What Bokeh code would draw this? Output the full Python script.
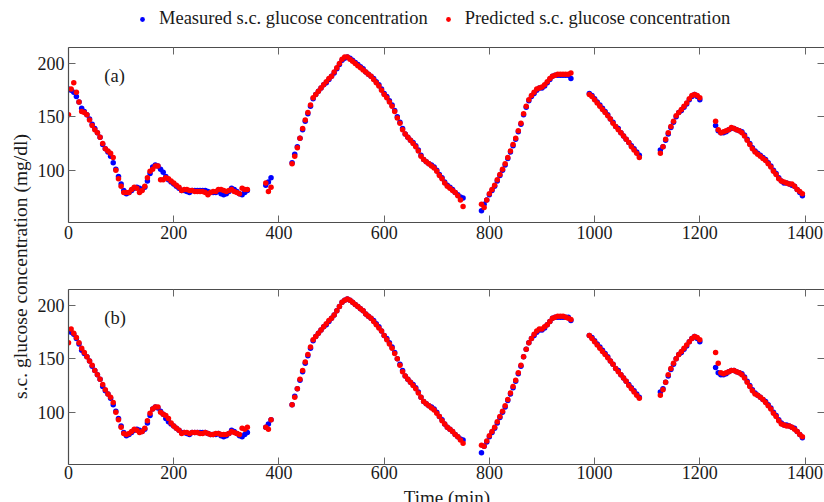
import math
from bokeh.plotting import figure
from bokeh.models import (Label, Legend, LegendItem, LinearAxis, FixedTicker,
                          Range1d, ColumnDataSource)
from bokeh.layouts import row, column
from bokeh.embed import file_html
from bokeh.resources import INLINE

FONT = "Liberation Serif"

# ---- data (5-min samples, one list per recording segment) ----
seg_start = [0, 375, 425, 785, 990, 1125, 1230]

measured = [
    [176,175,173,169,164,158,155,152,148,143,139,135,131,124,120,117,113,107,101,94,
     87,81,78,79,81,83,84,83,82,84,90,97,103,105,104,101,98,94,91,89,
     87,85,83,81,81,80,79,81,81,81,81,81,81,80,79,79,79,80,78,77,
     78,80,83,82,80,78,77,79,81],
    [86,89,93],
    [107,115,122,130,138,146,153,160,167,171,174,177,180,182,185,188,191,195,199,203,
     205,206,205,203,201,199,197,195,192,190,188,186,183,180,176,172,169,165,161,156,
     150,145,139,134,131,128,126,123,119,114,110,108,106,105,103,100,96,93,89,86,
     84,82,79,77,75,74],
    [62,68,72,77,81,85,90,95,100,105,111,117,123,129,136,143,152,159,165,169,
     172,175,177,177,179,182,185,188,189,189,189,189,189,189,186],
    [172,170,167,164,161,158,155,152,148,145,141,139,135,132,129,126,123,120,117,114],
    [119,122,128,134,140,145,150,154,156,159,162,166,169,171,169,166],
    [142,137,135,135,136,138,139,139,138,137,136,133,129,125,121,118,116,114,112,110,
     107,104,100,97,93,90,88,88,87,86,85,82,79,76],
]

pred_a = [
    [152,176,182,173,164,155,154,152,147,142,138,135,131,125,120,118,116,112,100,92,
     85,79,79,79,82,84,83,79,81,85,93,99,101,104,104,91,91,93,92,90,
     88,86,84,81,82,82,81,81,80,80,80,80,79,77,79,80,80,82,82,81,
     80,81,82,80,79,78,83,82,82],
    [88,80,84],
    [106,113,121,130,139,147,154,161,168,171,174,177,180,183,186,188,192,196,200,204,
     206,206,204,202,200,198,196,194,192,190,188,185,182,179,175,171,168,164,160,155,
     149,144,138,134,131,128,125,122,118,113,110,108,106,104,102,99,95,92,88,85,
     83,81,79,76,72,66],
    [68,65,72,78,82,86,91,96,101,106,112,118,124,130,137,144,153,160,166,170,
     173,176,177,178,180,183,186,188,189,190,190,190,190,190,191],
    [171,169,166,163,160,157,154,151,148,144,141,138,135,132,129,126,122,119,116,112],
    [116,122,129,135,141,146,151,154,157,160,163,167,170,171,170,168],
    [146,138,135,136,137,138,140,139,138,137,135,132,128,124,120,117,115,113,111,109,
     106,103,99,96,92,90,89,88,87,87,85,82,80,78],
]

pred_b = [
    [165,178,174,170,165,160,156,152,148,144,139,135,131,126,121,117,114,109,100,93,
     86,80,79,80,82,84,83,81,82,85,92,99,103,105,105,100,98,97,94,90,
     87,85,83,80,81,81,80,81,81,81,80,80,81,80,79,79,80,80,79,79,
     79,80,82,81,80,79,85,84,86],
    [86,84,93],
    [107,114,122,131,139,147,154,161,168,171,174,177,180,183,186,188,191,195,199,203,
     205,206,205,203,201,199,197,195,192,190,188,185,182,179,176,172,168,164,160,155,
     150,144,138,134,131,128,125,122,118,114,110,108,106,104,102,99,96,92,89,86,
     84,82,79,77,74,71],
    [69,68,73,78,82,86,91,96,101,106,112,118,124,130,137,144,152,159,165,169,
     173,176,178,178,180,182,185,188,189,190,190,190,189,188,187],
    [172,169,166,163,160,157,154,151,148,145,141,138,135,132,129,125,122,119,116,113],
    [116,121,128,135,141,146,150,154,157,160,163,166,169,171,170,168],
    [156,146,137,136,137,138,139,139,138,137,135,132,128,124,120,117,116,114,112,109,
     106,103,99,96,92,89,88,87,87,86,84,82,79,77],
]

x_ticks = [0, 200, 400, 600, 800, 1000, 1200, 1400]
y_ticks = [100, 150, 200]
legend_labels = ["Measured s.c. glucose concentration",
                 "Predicted s.c. glucose concentration"]
panel_tags = ["(a)", "(b)"]
x_title = "Time (min)"
y_title = "s.c. glucose concentration (mg/dl)"

BLUE = "#0000ff"
RED = "#ff0000"
AXIS_COLOR = "#4d4d4d"
TEXT_COLOR = "#1a1a1a"


def flatten(segs):
    t, v = [], []
    for s, vals in zip(seg_start, segs):
        for i, val in enumerate(vals):
            t.append(s + 5 * i)
            v.append(val)
    return dict(t=t, v=v)


def style_axis(ax, ticks, labels=True, line=True):
    ax.ticker = FixedTicker(ticks=ticks)
    ax.major_tick_in = 7
    ax.major_tick_out = 0
    ax.minor_tick_line_color = None
    ax.major_tick_line_color = "#666666"
    ax.axis_line_color = AXIS_COLOR if line else None
    ax.axis_line_width = 1.2
    if labels:
        ax.major_label_text_font = FONT
        ax.major_label_text_font_size = "18px"
        ax.major_label_text_color = TEXT_COLOR
    else:
        ax.major_label_text_font_size = "0px"
        ax.major_label_standoff = 0


def blank(width, height, xr, yr):
    f = figure(width=width, height=height, x_range=Range1d(*xr), y_range=Range1d(*yr),
               output_backend="svg", toolbar_location=None,
               x_axis_location=None, y_axis_location=None, min_border=0)
    f.outline_line_color = None
    f.xgrid.visible = False
    f.ygrid.visible = False
    return f


def make_panel(pred, tag, height, top, bottom, xstand):
    p = figure(width=790, height=height, x_range=Range1d(0, 1437),
               y_range=Range1d(51, 215), output_backend="svg",
               toolbar_location=None, min_border_left=33, min_border_right=0,
               min_border_top=top, min_border_bottom=bottom)
    p.xgrid.visible = False
    p.ygrid.visible = False
    p.outline_line_color = None
    style_axis(p.xaxis[0], x_ticks)
    p.xaxis[0].major_label_standoff = xstand
    style_axis(p.yaxis[0], y_ticks)
    p.yaxis[0].major_label_standoff = 4
    top_ax = LinearAxis()
    style_axis(top_ax, x_ticks, labels=False)
    p.add_layout(top_ax, "above")
    right_ax = LinearAxis()
    style_axis(right_ax, y_ticks, labels=False, line=False)
    p.add_layout(right_ax, "right")

    p.scatter("t", "v", source=ColumnDataSource(flatten(measured)),
              marker="circle", size=5.5, color=BLUE, line_width=0)
    p.scatter("t", "v", source=ColumnDataSource(flatten(pred)),
              marker="circle", size=5.5, color=RED, line_width=0)
    p.add_layout(Label(x=68, y=188.5, text=tag, text_baseline="middle",
                       text_font=FONT, text_font_size="18.5px",
                       text_color=TEXT_COLOR))
    return p


pa = make_panel(pred_a, panel_tags[0], 225, 17, 33, 3)
pb = make_panel(pred_b, panel_tags[1], 231, 34, 22, 1)

# legend strip above the panels
lg = blank(790, 30, (0, 1), (0, 1))
dm = lg.scatter([-5], [-5], marker="circle", size=5, color=BLUE, line_width=0)
dp = lg.scatter([-5], [-5], marker="circle", size=5, color=RED, line_width=0)
legend = Legend(items=[LegendItem(label=legend_labels[0], renderers=[dm]),
                       LegendItem(label=legend_labels[1], renderers=[dp])],
                orientation="horizontal", location=(68, 1))
legend.border_line_color = None
legend.background_fill_alpha = 0
legend.padding = 0
legend.margin = 0
legend.spacing = 14
legend.label_standoff = 11
legend.glyph_width = 12
legend.glyph_height = 12
legend.label_height = 20
legend.label_text_font = FONT
legend.label_text_font_size = "18.5px"
legend.label_text_color = TEXT_COLOR
lg.add_layout(legend)

# x-axis title strip below the panels (frame aligned with the panels' frames)
xt = blank(790, 16, (0, 757), (0, 16))
xt.add_layout(Label(x=379, y=16, text=x_title, text_align="center",
                    text_baseline="top", text_font=FONT,
                    text_font_size="19px", text_color=TEXT_COLOR))

# shared y-axis title
ylab = blank(34, 502, (0, 34), (0, 502))
ylab.add_layout(Label(x=20, y=236, text=y_title,
                      angle=math.pi / 2, text_align="center",
                      text_baseline="middle", text_font=FONT,
                      text_font_size="19.5px", text_color=TEXT_COLOR))

layout = row(ylab, column(lg, pa, pb, xt))
open("out.html", "w").write(file_html(layout, INLINE))
